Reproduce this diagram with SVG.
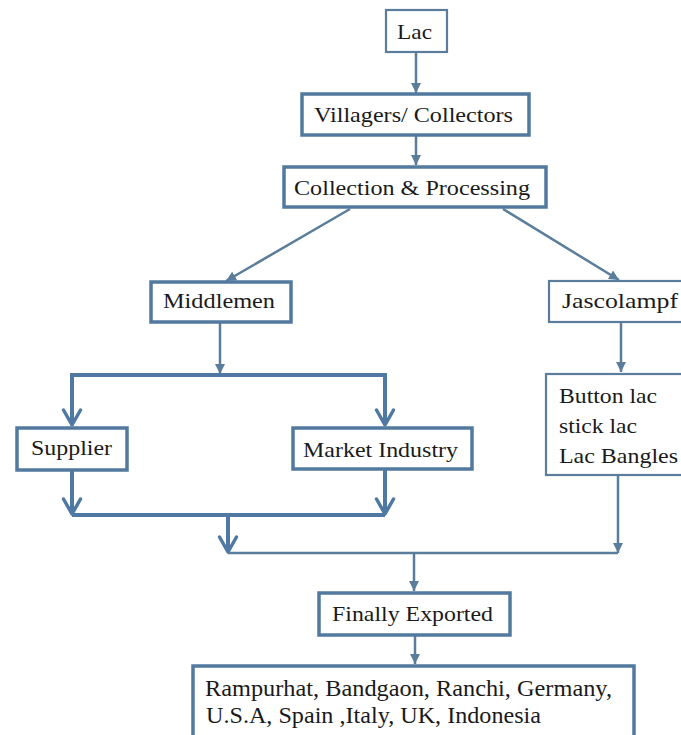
<svg xmlns="http://www.w3.org/2000/svg" width="681" height="735" viewBox="0 0 681 735">
<style>
.box{fill:#ffffff;stroke:#52799e;stroke-width:3.5}
.thin{fill:#ffffff;stroke:#5a7d9c;stroke-width:2.2}
.lbl{font-family:'Liberation Serif',serif;font-size:22px;fill:#1a1a1a}
.c{fill:none;stroke:#5a7d9c;stroke-width:2.5}
.ct{fill:none;stroke:#4f79a3;stroke-width:4}
</style>
<defs>
<marker id="tri" viewBox="0 0 10 10" refX="10" refY="5" markerWidth="10" markerHeight="10" markerUnits="userSpaceOnUse" orient="auto">
<path d="M0,0 L10,5 L0,10 z" fill="#5a7d9c"/>
</marker>
<marker id="chev" viewBox="-3 -12 22 24" refX="15" refY="0" markerWidth="22" markerHeight="24" markerUnits="userSpaceOnUse" orient="auto">
<path d="M0,-8.5 L15,0 L0,8.5" fill="none" stroke="#4f79a3" stroke-width="3.5" stroke-linejoin="round" stroke-linecap="round"/>
</marker>
</defs>
<rect width="681" height="735" fill="#ffffff"/>
<g id="connectors">
<line class="c" x1="416" y1="52" x2="416" y2="93" marker-end="url(#tri)"/>
<line class="c" x1="416" y1="135" x2="416" y2="165" marker-end="url(#tri)"/>
<line class="c" x1="350" y1="209" x2="226" y2="281" marker-end="url(#tri)"/>
<line class="c" x1="503" y1="209" x2="619" y2="280" marker-end="url(#tri)"/>
<line class="c" x1="220" y1="323" x2="220" y2="374" marker-end="url(#tri)"/>
<polyline class="ct" points="72,425 72,375 385,375 385,425"/>
<line class="ct" x1="72" y1="376" x2="72" y2="425" marker-end="url(#chev)"/>
<line class="ct" x1="385" y1="376" x2="385" y2="425" marker-end="url(#chev)"/>
<line class="ct" x1="72" y1="471" x2="72" y2="514" marker-end="url(#chev)"/>
<line class="ct" x1="385" y1="469" x2="385" y2="514" marker-end="url(#chev)"/>
<line class="ct" x1="72" y1="515" x2="385" y2="515"/>
<line class="ct" x1="228" y1="515" x2="228" y2="552" marker-end="url(#chev)"/>
<line class="c" x1="228" y1="553" x2="618" y2="553"/>
<line class="c" x1="621" y1="322" x2="621" y2="372" marker-end="url(#tri)"/>
<line class="c" x1="618" y1="475" x2="618" y2="553" marker-end="url(#tri)"/>
<line class="c" x1="414" y1="553" x2="414" y2="591" marker-end="url(#tri)"/>
<line class="c" x1="415" y1="636" x2="415" y2="664" marker-end="url(#tri)"/>
</g>
<g id="node-lac">
<rect class="thin" x="386" y="10" width="61" height="42"/>
<text class="lbl" x="397" y="39" textLength="35" lengthAdjust="spacingAndGlyphs">Lac</text>
</g>
<g id="node-villagers">
<rect class="box" x="302" y="94" width="227" height="41"/>
<text class="lbl" x="314" y="122" textLength="199" lengthAdjust="spacingAndGlyphs">Villagers/ Collectors</text>
</g>
<g id="node-collection">
<rect class="box" x="284" y="167" width="262" height="40"/>
<text class="lbl" x="294" y="195" textLength="236" lengthAdjust="spacingAndGlyphs">Collection &amp; Processing</text>
</g>
<g id="node-middlemen">
<rect class="box" x="151" y="282" width="140" height="40"/>
<text class="lbl" x="163" y="308" textLength="112" lengthAdjust="spacingAndGlyphs">Middlemen</text>
</g>
<g id="node-jascolampf">
<rect class="thin" x="549" y="281" width="140" height="41"/>
<text class="lbl" x="562" y="308" textLength="116" lengthAdjust="spacingAndGlyphs">Jascolampf</text>
</g>
<g id="node-products">
<rect class="thin" x="546" y="374" width="150" height="101"/>
<text class="lbl" x="559" y="403" textLength="98" lengthAdjust="spacingAndGlyphs">Button lac</text>
<text class="lbl" x="559" y="433" textLength="78" lengthAdjust="spacingAndGlyphs">stick lac</text>
<text class="lbl" x="559" y="463" textLength="119" lengthAdjust="spacingAndGlyphs">Lac Bangles</text>
</g>
<g id="node-supplier">
<rect class="box" x="17" y="428" width="110" height="42"/>
<text class="lbl" x="31" y="455" textLength="81" lengthAdjust="spacingAndGlyphs">Supplier</text>
</g>
<g id="node-market">
<rect class="box" x="293" y="428" width="179" height="41"/>
<text class="lbl" x="303" y="457" textLength="155" lengthAdjust="spacingAndGlyphs">Market Industry</text>
</g>
<g id="node-exported">
<rect class="box" x="319" y="593" width="191" height="42"/>
<text class="lbl" x="332" y="621" textLength="161" lengthAdjust="spacingAndGlyphs">Finally Exported</text>
</g>
<g id="node-destinations">
<rect class="box" x="193" y="666" width="441" height="80"/>
<text class="lbl" x="205" y="696" style="font-size:23px" textLength="407" lengthAdjust="spacingAndGlyphs">Rampurhat, Bandgaon, Ranchi, Germany,</text>
<text class="lbl" x="206" y="723" style="font-size:23px" textLength="335" lengthAdjust="spacingAndGlyphs">U.S.A, Spain ,Italy, UK, Indonesia</text>
</g>
</svg>
